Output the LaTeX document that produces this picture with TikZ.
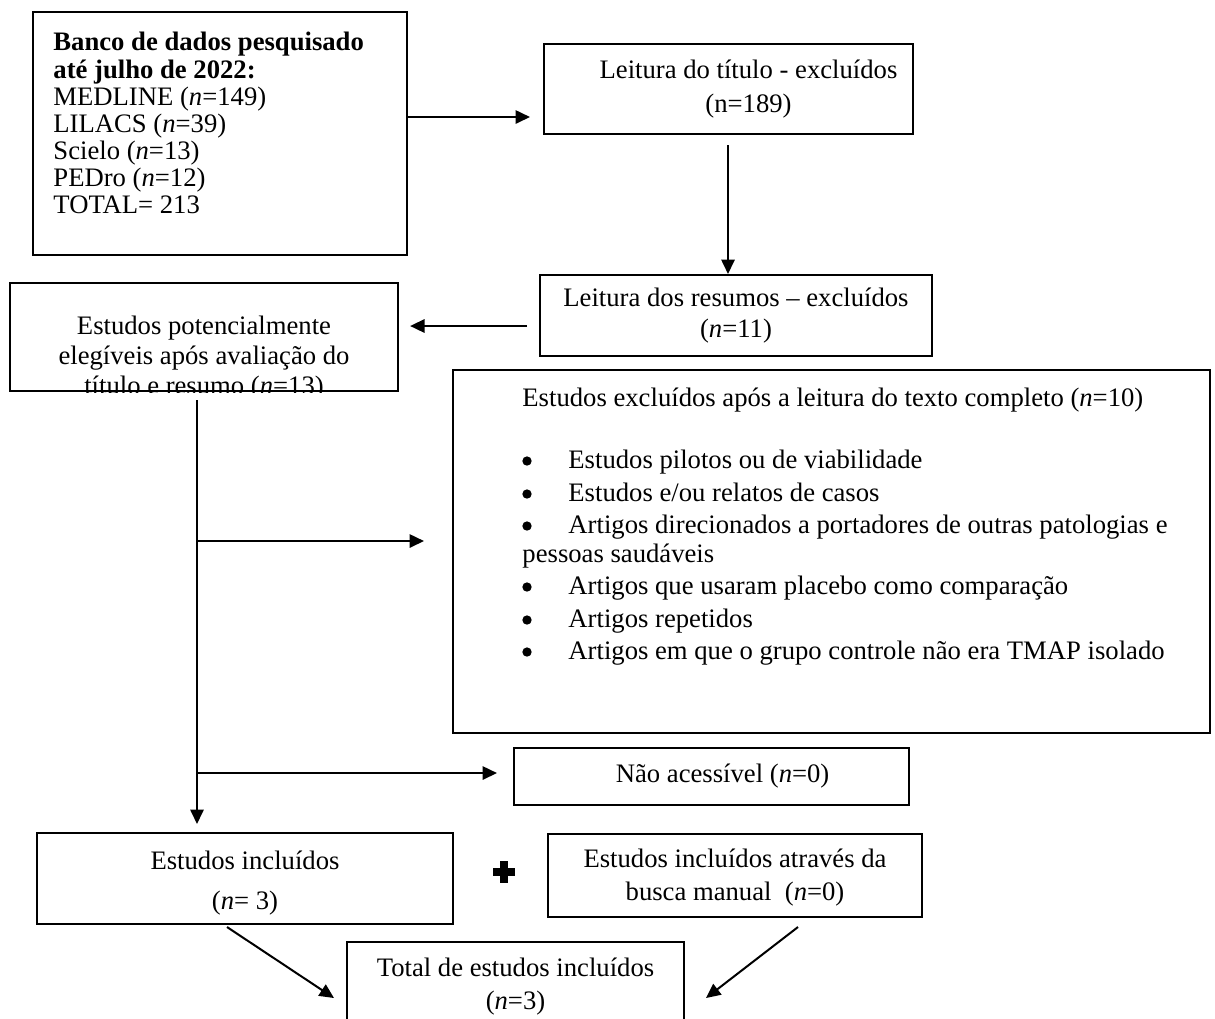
\documentclass[tikz,border=0pt]{standalone}
\usepackage{fontspec}
\setmainfont{Liberation Serif}
\usetikzlibrary{arrows.meta, fit}

\tikzset{
  box/.style={draw, line width=0.9pt, inner sep=0pt},
  txt/.style={inner sep=0pt, align=center},
  arr/.style={-{Triangle[length=6.5pt, width=6pt]}, line width=0.9pt}
}

\begin{document}
\begin{tikzpicture}[x=0.45pt, y=-0.45pt, font=\fontsize{12}{12.2}\selectfont]
\useasboundingbox (0,0) rectangle (1215,1018);
% caixas
\node [box, fit={(33,12) (407,255)}] (banco) {};
\node [txt, anchor=north west, align=left] (bancotxt) at (53,32) {\textbf{Banco de dados pesquisado}\\ \textbf{até julho de 2022:}\\ MEDLINE (\textit{n}=149)\\ LILACS (\textit{n}=39)\\ Scielo (\textit{n}=13)\\ PEDro (\textit{n}=12)\\ TOTAL= 213};
\node [box, fit={(544,44) (913,134)}] (titulo) {};
\node [txt] (titulotxt) at ([xshift=9pt]titulo.center) {Leitura do título - excluídos\\[2.8pt] (n=189)};
\node [box, fit={(540,275) (932,356)}] (resumos) {};
\node [txt] (resumostxt) at (resumos.center) {Leitura dos resumos – excluídos\\[1.5pt] (\textit{n}=11)};
\node [box, fit={(10,283) (398,391)}] (potenc) {};
\begin{scope}
\clip (potenc.north west) rectangle (potenc.south east);
\node [txt, anchor=north] (potenctxt) at (204,316) {Estudos potencialmente\\[1.3pt] elegíveis após avaliação do\\[1.3pt] título e resumo (\textit{n}=13)};
\end{scope}
\node [box, fit={(453,370) (1210,733)}] (excl) {};
\node [txt, anchor=base west] (excltxt) at (522,406) {Estudos excluídos após a leitura do texto completo (\textit{n}=10)};
\foreach \y/\entry [count=\i] in {468/{Estudos pilotos ou de viabilidade}, 501/{Estudos e/ou relatos de casos}, 533/{Artigos direcionados a portadores de outras patologias e}, 594/{Artigos que usaram placebo como comparação}, 627/{Artigos repetidos}, 659/{Artigos em que o grupo controle não era TMAP isolado}} {
  \fill (527,\y-7) circle (2.1pt);
  \node [txt, anchor=base west] (item\i) at (568,\y) {\entry};
}
\node [txt, anchor=base west] (item3b) at (522,562) {pessoas saudáveis};
\node [box, fit={(514,748) (909,805)}] (naoac) {};
\node [txt] (naoactxt) at ([xshift=5pt]naoac.center) {Não acessível (\textit{n}=0)};
\node [box, fit={(37,833) (453,924)}] (incl) {};
\node [txt] (incltxt) at ([yshift=-2pt]incl.center) {Estudos incluídos\\[6pt] (\textit{n}= 3)};
\node [box, fit={(548,834) (922,917)}] (busca) {};
\node [txt] (buscatxt) at ([yshift=-1pt]busca.center) {Estudos incluídos através da\\[2.8pt] busca manual\ \ (\textit{n}=0)};
\node [box, fit={(347,942) (684,1031)}] (total) {};
\node [txt] (totaltxt) at (total.center) {Total de estudos incluídos\\[2.8pt] (\textit{n}=3)};
% sinal de mais
\coordinate (plus) at (504,872);
\fill ([xshift=-5pt, yshift=-1.8pt]plus) rectangle ([xshift=5pt, yshift=1.8pt]plus);
\fill ([xshift=-1.8pt, yshift=-5pt]plus) rectangle ([xshift=1.8pt, yshift=5pt]plus);
% setas
\coordinate (a1) at (530,117);
\draw [arr] (banco.east |- a1) -- (a1);
\coordinate (a2) at (728,145);
\draw [arr] (a2) -- (a2 |- resumos.north);
\coordinate (a3) at (527,326);
\draw [arr, shorten >=5pt] (a3) -- (a3 -| potenc.east);
\coordinate (trunk) at (197,400);
\draw [arr, shorten >=3.6pt] (trunk) -- (trunk |- incl.north);
\coordinate (b1) at (197,541);
\draw [arr, shorten >=12.6pt] (b1) -- (b1 -| excl.west);
\coordinate (b2) at (197,773);
\draw [arr, shorten >=7.2pt] (b2) -- (b2 -| naoac.west);
\coordinate (d1) at (227,927);
\coordinate (d1e) at (334,998);
\draw [arr] (d1) -- (d1e);
\coordinate (d2) at (798,927);
\coordinate (d2e) at (706,998);
\draw [arr] (d2) -- (d2e);
\end{tikzpicture}
\end{document}
